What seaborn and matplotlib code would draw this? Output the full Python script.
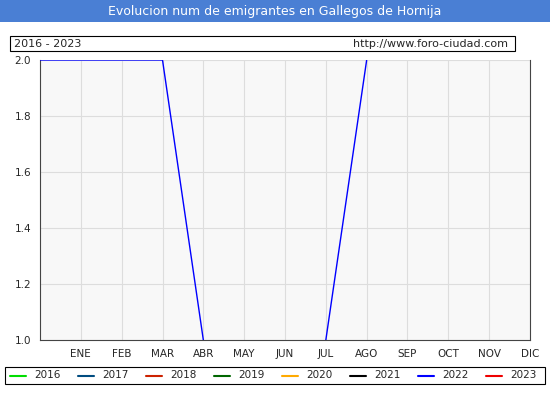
import matplotlib
matplotlib.use("Agg")
import matplotlib.pyplot as plt
import seaborn as sns
import pandas as pd

months = ['', 'ENE', 'FEB', 'MAR', 'ABR', 'MAY', 'JUN', 'JUL', 'AGO', 'SEP', 'OCT', 'NOV', 'DIC']
years = ['2016', '2017', '2018', '2019', '2020', '2021', '2022', '2023']
colors = ['#00dd00', '#004c80', '#cc2200', '#006600', '#ffaa00', '#000000', '#0000ff', '#ee0000']
# only 2022 is visible inside the 1-2 range
v2022 = [2, 2, 2, 2, 1, 0, 0, 1, 2]

rows = []
for i, v in enumerate(v2022):
    rows.append({'x': i, 'y': v, 'year': '2022'})
df = pd.DataFrame(rows)

sns.set_style('white')
fig = plt.figure(figsize=(5.5, 4), dpi=100)
fig.patch.set_facecolor('white')
ax = fig.add_axes([40/550, 60/400, 490/550, 280/400])
ax.set_facecolor('#f8f8f8')
ax.set_xlim(0, 12)
ax.set_ylim(1.0, 2.0)
sns.lineplot(data=df, x='x', y='y', color='#0000ff', lw=1, ax=ax, legend=False)
ax.lines[-1].set_zorder(5)
ax.set_xlim(0, 12)
ax.set_ylim(1.0, 2.0)
ax.set_xticks(range(13))
ax.set_xticklabels(months, fontsize=7.5)
ax.set_yticks([1.0, 1.2, 1.4, 1.6, 1.8, 2.0])
ax.set_yticklabels(['1.0', '1.2', '1.4', '1.6', '1.8', '2.0'], fontsize=7.5)
ax.grid(True, color='#dddddd', lw=0.8)
ax.tick_params(length=3)
ax.set_xlabel('')
ax.set_ylabel('')
for s in ax.spines.values():
    s.set_color('#444444')
    s.set_zorder(1)
ax.spines['top'].set_visible(False)

# title bar
fig.patches.append(plt.Rectangle((0, 378/400), 1, 22/400, transform=fig.transFigure,
                                 facecolor='#4a7fd4', edgecolor='none'))
fig.text(0.5, 389/400, 'Evolucion num de emigrantes en Gallegos de Hornija', ha='center',
         va='center', color='white', fontsize=9)

# header box
fig.patches.append(plt.Rectangle((10/550, 349/400), 505/550, 15/400, transform=fig.transFigure,
                                 facecolor='white', edgecolor='black', lw=0.8))
fig.text(14/550, 356/400, '2016 - 2023', fontsize=8, va='center')
fig.text(508/550, 356/400, 'http://www.foro-ciudad.com', fontsize=8, va='center', ha='right')

# legend box
fig.patches.append(plt.Rectangle((5/550, 16/400), 540/550, 17/400, transform=fig.transFigure,
                                 facecolor='white', edgecolor='black', lw=0.8))
for i, (yr, c) in enumerate(zip(years, colors)):
    x0 = (10 + i * 68) / 550
    fig.lines.append(plt.Line2D([x0, x0 + 16/550], [24.5/400, 24.5/400], transform=fig.transFigure,
                                color=c, lw=1.5))
    fig.text(x0 + 24/550, 24.5/400, yr, fontsize=7.5, va='center')

fig.savefig('out.png', dpi=100)
